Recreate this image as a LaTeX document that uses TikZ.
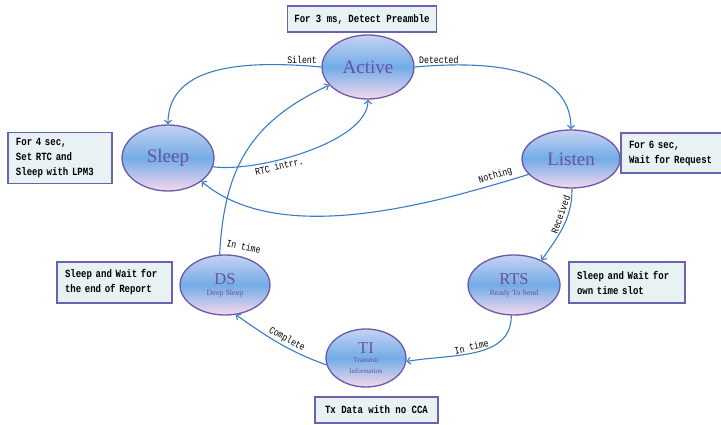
\documentclass[tikz,border=0pt]{standalone}
\usepackage{fontspec}
\setmainfont{Liberation Serif}
\setmonofont[FakeStretch=0.82]{Liberation Mono}
\usetikzlibrary{shapes.geometric,arrows.meta}
\definecolor{stateline}{HTML}{6A5AA8}
\definecolor{statetext}{HTML}{6A50A0}
\definecolor{stateTop}{HTML}{C6D2F2}
\definecolor{stateMid}{HTML}{72ACE6}
\definecolor{stateBot}{HTML}{F6D8EE}
\definecolor{flowblue}{HTML}{3A7CC4}
\definecolor{notefill}{HTML}{E8F2F2}
\definecolor{noteline}{HTML}{6B62B0}
\newcommand\subtxt[2][8]{{\fontsize{#1}{9}\selectfont #2}}
\tikzset{
  statenode/.style = {shape=ellipse, draw=stateline, line width=1.3pt,
                      inner sep=0pt, align=center, text=statetext,
                      top color=stateTop, bottom color=stateBot, middle color=stateMid,
                      font=\fontsize{19}{20}\selectfont},
  substate/.style  = {statenode, font=\fontsize{16.5}{14}\selectfont},
  notebox/.style   = {shape=rectangle, draw=noteline, line width=1.6pt,
                      fill=notefill, inner xsep=8pt, inner ysep=0pt, align=left,
                      font=\ttfamily\bfseries\fontsize{11}{15}\selectfont}
}

\begin{document}
\begin{tikzpicture}
  [
    x = 1pt, y = 1pt,
    trans/.style   = {draw=flowblue, line width=1.1pt,
                      -{Straight Barb[length=3.5pt,width=7pt]}},
    edgelab/.style = {font=\ttfamily\fontsize{10}{10}\selectfont, inner sep=2pt}
  ]
  \useasboundingbox (0,0) rectangle (721,425);

  % states
  \node [statenode, minimum width=92pt, minimum height=64pt] (Active) at (368,358) {Active};
  \node [statenode, minimum width=92pt, minimum height=66pt] (Sleep)  at (168,267) {Sleep};
  \node [statenode, minimum width=98pt, minimum height=58pt] (Listen) at (571,266) {Listen};
  \node [substate, minimum width=90pt, minimum height=60pt] (DS)  at (225,140)
        {DS\\[-3pt]\subtxt{Deep Sleep}};
  \node [substate, minimum width=92pt, minimum height=60pt] (RTS) at (514,140)
        {RTS\\[-3pt]\subtxt{Ready To Send}};
  \node [substate, minimum width=80pt, minimum height=58pt] (TI)  at (366,67)
        {TI\\[-5pt]\subtxt[7]{Transmit}\\[-3pt]\subtxt[7]{Information}};

  % notes
  \node [notebox, minimum width=149pt, minimum height=26pt, inner xsep=4pt, align=center] (PreNote) at (362,406)
        {For 3 ms, Detect Preamble};
  \node [notebox, text width=88pt, minimum height=51pt] (SleepNote) at (60,267)
        {For 4 sec,\\Set RTC and\\Sleep with LPM3};
  \node [notebox, text width=92pt, minimum height=40pt, inner xsep=8pt] (ListenNote) at (675,272)
        {For 6 sec,\\Wait for Request};
  \node [notebox, text width=99pt, minimum height=41pt] (DSNote) at (114.5,142.5)
        {Sleep and Wait for\\the end of Report};
  \node [notebox, text width=100pt, minimum height=41pt] (RTSNote) at (627,142.5)
        {Sleep and Wait for\\own time slot};
  \node [notebox, minimum width=123pt, minimum height=26pt, align=center] (TINote) at (376.5,15)
        {Tx Data with no CCA};

  % transitions
  \draw [trans] (Active.west) to[out=175, in=90]
        node [edgelab, pos=0, anchor=south east, xshift=-2pt, yshift=1pt] {Silent} (Sleep.north);
  \draw [trans] (Active.east) to[out=5, in=90]
        node [edgelab, pos=0, anchor=south west, xshift=2pt, yshift=1pt] {Detected} (Listen.north);
  \draw [trans] (Sleep.-11) to[out=-8, in=-90, looseness=0.65]
        node [edgelab, pos=0.36, below, sloped] {RTC intrr.} (Active.south);
  \draw [trans] (Listen.200) to[out=197, in=-40, looseness=0.8]
        node [edgelab, pos=0.1, above=1pt, sloped] {Nothing} (Sleep.-35);
  \draw [trans] (Listen.-88) to[out=-90, in=55]
        node [edgelab, pos=0.36, above=1pt, sloped] {Received} (RTS.42);
  \draw [trans] (RTS.-95) to[out=-90, in=10]
        node [edgelab, pos=0.52, above, sloped] {In time} (TI.-5);
  \draw [trans] (TI.190) to[out=160, in=-35]
        node [edgelab, pos=0.45, above, sloped] {Complete} (DS.-70);
  \draw [trans] (DS.100) to[out=87, in=205, looseness=1.1]
        node [edgelab, pos=0.05, anchor=west, rotate=-12, xshift=4pt] {In time} (Active.-155);
\end{tikzpicture}
\end{document}
